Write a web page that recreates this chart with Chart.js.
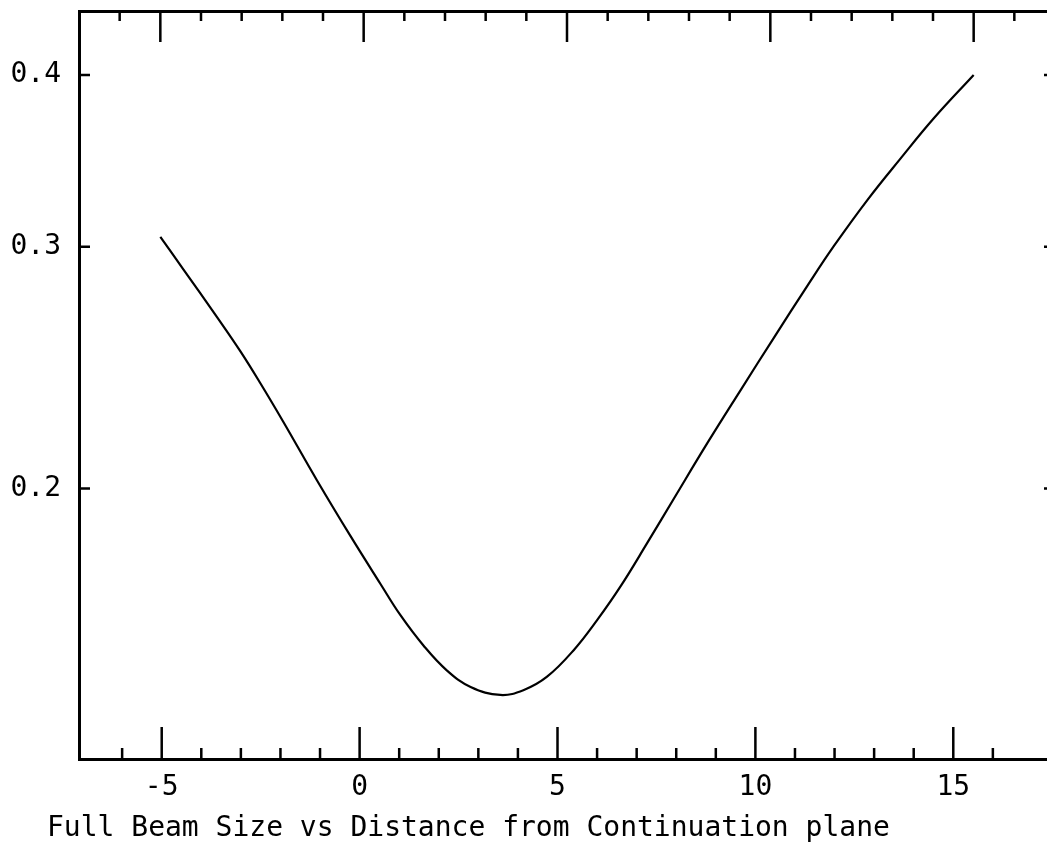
<!DOCTYPE html>
<html>
<head>
<meta charset="utf-8">
<title>Full Beam Size vs Distance from Continuation plane</title>
<script src="https://cdn.jsdelivr.net/npm/chart.js@4.4.1/dist/chart.umd.min.js"></script>
<style>
  html, body { margin: 0; padding: 0; background: #fff; overflow: hidden; }
  canvas { display: block; }
</style>
</head>
<body>
<canvas id="beamChart" width="1055" height="848"></canvas>
<script>
// Beam size along the drift, distance measured from the continuation plane
const distance = [-5, -4.43, -3.61, -3.03, -2.54, -1.97, -1.15, -0.33, 0.41, 0.9, 1.48, 2.05, 2.63, 3.36,
  3.94, 4.51, 5.17, 5.74, 6.32, 6.97, 7.63, 8.45, 9.27, 10.09, 10.91, 11.56, 12.39, 13.2, 14.02, 15];
const beamSize = [0.305, 0.2887, 0.2667, 0.2517, 0.2386, 0.2235, 0.2028, 0.1848, 0.1705, 0.1618, 0.1536,
  0.1474, 0.1434, 0.1415, 0.1427, 0.1459, 0.1526, 0.1604, 0.1698, 0.1825, 0.1967, 0.2158, 0.2359, 0.2576,
  0.2809, 0.3002, 0.3245, 0.3477, 0.372, 0.40];

const xLabelTicks = [-5, 0, 5, 10, 15];
const xMinorTicks = [-6, -5, -4, -3, -2, -1, 0, 1, 2, 3, 4, 5, 6, 7, 8, 9, 10, 11, 12, 13, 14, 15, 16];
const yTicks = [0.2, 0.3, 0.4];

const caption = 'Full Beam Size vs Distance from Continuation plane';
const FONT = { family: '"DejaVu Sans Mono", monospace', size: 28 };

// inward tick marks on all four sides + caption under the axis
const frameTicks = {
  id: 'frameTicks',
  afterDraw(chart) {
    const ctx = chart.ctx;
    const area = chart.chartArea;
    const xb = chart.scales.x, xt = chart.scales.xTop, y = chart.scales.y;
    ctx.save();
    ctx.strokeStyle = '#000';
    ctx.lineWidth = 2.5;
    ctx.beginPath();
    xMinorTicks.forEach(v => {
      const major = v % 5 === 0;
      const pt = xt.getPixelForValue(v);
      ctx.moveTo(pt, area.top);
      ctx.lineTo(pt, area.top + (major ? 31 : 10));
      const pb = xb.getPixelForValue(v);
      ctx.moveTo(pb, area.bottom);
      ctx.lineTo(pb, area.bottom - (major ? 32 : 11));
    });
    yTicks.forEach(v => {
      const py = y.getPixelForValue(v);
      ctx.moveTo(area.left, py);
      ctx.lineTo(area.left + 11, py);
      ctx.moveTo(area.right, py);
      ctx.lineTo(area.right - 11, py);
    });
    ctx.stroke();

    ctx.fillStyle = '#000';
    ctx.font = FONT.size + 'px ' + FONT.family;
    ctx.textAlign = 'left';
    ctx.textBaseline = 'alphabetic';
    ctx.fillText(caption, 47, 836);
    ctx.restore();
  }
};

// fixed axis boxes, no extra label padding around the plot
const fixHeight = h => s => { s.height = h; s.paddingLeft = 0; s.paddingRight = 0; };

new Chart(document.getElementById('beamChart'), {
  type: 'line',
  data: {
    datasets: [{
      data: distance.map((d, i) => ({ x: d, y: beamSize[i] })),
      xAxisID: 'xTop',
      yAxisID: 'y',
      borderColor: '#000',
      borderWidth: 2.2,
      pointRadius: 0,
      tension: 0.4,
      fill: false
    }]
  },
  options: {
    responsive: false,
    animation: false,
    layout: { padding: 0 },
    plugins: { legend: { display: false }, tooltip: { enabled: false } },
    scales: {
      x: {
        type: 'linear',
        position: 'bottom',
        min: -7.09,
        max: 17.57,
        grid: { display: false, drawTicks: false },
        border: { display: true, color: '#000', width: 3 },
        ticks: { color: '#000', font: FONT, padding: 12, maxRotation: 0, autoSkip: false },
        afterBuildTicks: s => { s.ticks = xLabelTicks.map(v => ({ value: v })); },
        afterFit: fixHeight(89)
      },
      xTop: {
        type: 'linear',
        position: 'top',
        min: -7,
        max: 17,
        grid: { display: false, drawTicks: false },
        border: { display: true, color: '#000', width: 3 },
        ticks: { display: false },
        afterFit: fixHeight(11)
      },
      y: {
        type: 'logarithmic',
        position: 'left',
        min: 0.1271,
        max: 0.4453,
        grid: { display: false, drawTicks: false },
        border: { display: true, color: '#000', width: 3 },
        ticks: { color: '#000', font: FONT, padding: 18, callback: v => Number(v).toFixed(1) },
        afterBuildTicks: s => { s.ticks = yTicks.map(v => ({ value: v })); },
        afterFit: s => { s.width = 79; s.paddingTop = 0; s.paddingBottom = 0; }
      }
    }
  },
  plugins: [frameTicks]
});
</script>
</body>
</html>
